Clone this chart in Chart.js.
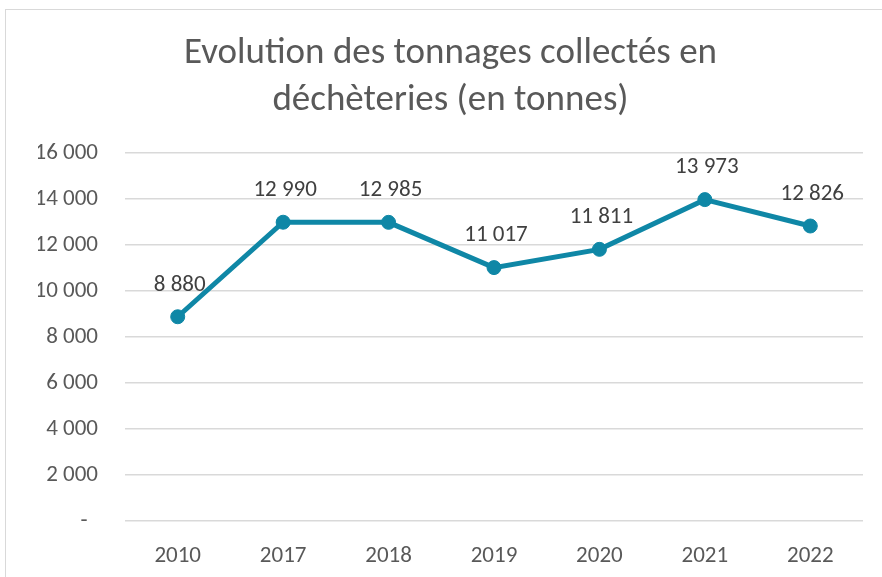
<!DOCTYPE html>
<html>
<head>
<meta charset="utf-8">
<script src="https://cdn.jsdelivr.net/npm/chart.js@4.4.0/dist/chart.umd.min.js"></script>
<style>
  html, body { margin: 0; padding: 0; background: #fff; overflow: hidden; }
  .frame {
    position: absolute; left: 5px; top: 9px;
    width: 900px; height: 600px;
    border-left: 1px solid #d9d9d9; border-top: 1px solid #d9d9d9;
  }
  .frame canvas { position: absolute; left: 0; top: 0; }
</style>
</head>
<body>
<div class="frame">
  <canvas id="chart" width="889" height="567"></canvas>
</div>
<script>
// chart data
const years = ['2010', '2017', '2018', '2019', '2020', '2021', '2022'];
const tonnages = [8880, 12990, 12985, 11017, 11811, 13973, 12826];
const titleLines = ['Evolution des tonnages collectés en', 'déchèteries (en tonnes)'];
const yTicks = [0, 2000, 4000, 6000, 8000, 10000, 12000, 14000, 16000];

const FONT = 'Calibri, Carlito, Lato, "Open Sans", sans-serif';
const lineColor = '#0f87a6';

// French style number: 12 990, zero shown as a dash
function fmt(v) {
  if (v === 0) return '-  ';
  return String(v).replace(/\B(?=(\d{3})+(?!\d))/g, ' ');
}

// draws the value above each point
const valueLabels = {
  id: 'valueLabels',
  afterDatasetsDraw(chart) {
    const ctx = chart.ctx;
    const meta = chart.getDatasetMeta(0);
    ctx.save();
    ctx.font = '23px ' + FONT;
    ctx.fillStyle = '#404040';
    ctx.textAlign = 'center';
    ctx.textBaseline = 'middle';
    meta.data.forEach((pt, i) => {
      ctx.fillText(fmt(tonnages[i]), pt.x + 2, pt.y - 32);
    });
    ctx.restore();
  }
};

new Chart(document.getElementById('chart'), {
  type: 'line',
  data: {
    labels: years,
    datasets: [{
      data: tonnages,
      borderColor: lineColor,
      backgroundColor: lineColor,
      borderWidth: 5,
      pointRadius: 7,
      pointBorderWidth: 1,
      pointBackgroundColor: lineColor,
      pointBorderColor: lineColor,
      tension: 0,
    }],
  },
  options: {
    responsive: false,
    animation: false,
    // equal side padding keeps the title centred on the whole frame
    layout: { padding: { left: 32, right: 32, top: 0, bottom: 0 } },
    plugins: {
      legend: { display: false },
      tooltip: { enabled: false },
      title: {
        display: true,
        text: titleLines,
        color: '#595959',
        font: { family: FONT, size: 37, weight: 'normal', lineHeight: 47 / 37 },
        padding: { top: 20, bottom: 29 },
      },
    },
    scales: {
      x: {
        offset: true,
        grid: { display: false },
        border: { display: false },
        ticks: { color: '#595959', font: { family: FONT, size: 23 }, padding: 13 },
        afterFit(scale) { scale.height = 56; },
      },
      y: {
        min: 0,
        max: 16000,
        afterBuildTicks(scale) { scale.ticks = yTicks.map(v => ({ value: v })); },
        grid: { color: '#d9d9d9', lineWidth: 1.5, drawTicks: false },
        border: { display: false },
        ticks: {
          color: '#595959',
          font: { family: FONT, size: 23 },
          padding: 27,
          callback: v => fmt(v),
        },
        afterFit(scale) { scale.width = 87; },
      },
    },
  },
  plugins: [valueLabels],
});
</script>
</body>
</html>
